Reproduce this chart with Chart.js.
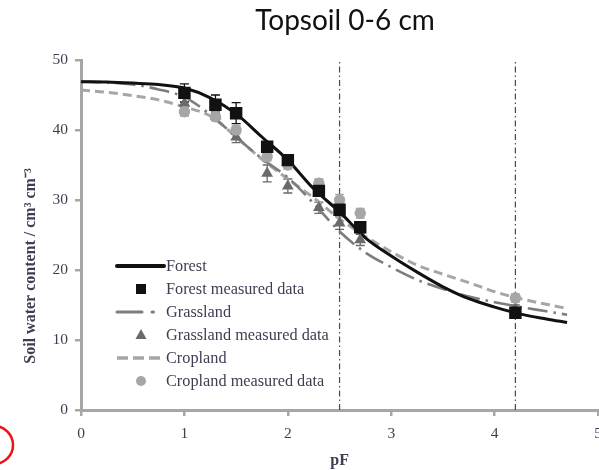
<!DOCTYPE html>
<html>
<head>
<meta charset="utf-8">
<script src="https://cdn.jsdelivr.net/npm/chart.js@4/dist/chart.umd.min.js"></script>
<style>
  html, body { margin: 0; padding: 0; background: #fff; overflow: hidden; }
  #wrap { position: relative; width: 599px; height: 470px; overflow: hidden; }
  #c { position: absolute; left: 0; top: 0; }
</style>
</head>
<body>
<div id="wrap"><canvas id="c" width="611" height="470"></canvas></div>
<script>
// ---- Data ----
const chartTitle = 'Topsoil 0-6 cm';
const xTitle = 'pF';
const yTitle = 'Soil water content / cm³ cm⁻³';

// fitted retention curves (sampled along pF)
const curvePF       = [0, 0.25, 0.5, 0.75, 1.0, 1.25, 1.5, 1.75, 2.0, 2.25, 2.5, 2.75, 3.0, 3.25, 3.5, 3.75, 4.0, 4.25, 4.5, 4.7];
const forestCurve   = [46.9, 46.85, 46.7, 46.5, 46.0, 44.6, 42.3, 39.0, 35.7, 31.6, 28.3, 24.6, 22.0, 19.7, 17.6, 15.9, 14.7, 13.7, 13.0, 12.5];
const grassCurve    = [46.9, 46.8, 46.5, 45.8, 44.7, 42.2, 39.0, 35.9, 33.2, 29.5, 25.5, 22.5, 20.4, 18.6, 17.3, 16.2, 15.4, 14.7, 14.1, 13.6];
const cropCurve     = [45.7, 45.4, 44.9, 44.3, 43.3, 42.0, 39.0, 35.8, 33.0, 30.3, 27.3, 24.8, 22.6, 20.7, 19.4, 18.2, 16.9, 15.9, 15.1, 14.5];

// measured data
const measPF        = [1.0, 1.3, 1.5, 1.8, 2.0, 2.3, 2.5, 2.7, 4.2];
const forestMeas    = [45.3, 43.6, 42.4, 37.6, 35.7, 31.3, 28.6, 26.1, 13.9];
const forestErr     = [1.3, 1.4, 1.5, 0.5, 0.4, 0.7, 0.8, 0.8, 0.6];
const grassMeas     = [43.8, 42.0, 39.0, 33.8, 32.0, 28.9, 26.7, 24.3, 14.5];
const grassErr      = [0.8, 0.6, 0.8, 1.2, 1.0, 0.8, 0.9, 0.8, 0.5];
const cropMeas      = [42.6, 41.9, 40.0, 36.2, 35.0, 32.4, 30.0, 28.1, 16.0];
const cropErr       = [0.6, 0.6, 0.6, 0.6, 0.6, 0.6, 0.8, 0.7, 0.6];

// reference pF lines (field capacity / wilting point)
const refLinesPF    = [2.5, 4.2];
const refLineRange  = [0, 50];

const legendLabels  = ['Forest', 'Forest measured data', 'Grassland', 'Grassland measured data', 'Cropland', 'Cropland measured data'];

const xTicks = { min: 0, max: 5, step: 1 };
const yTicks = { min: 0, max: 50, step: 10 };

// ---- Styles ----
const C_FOREST = '#111111';
const C_GRASS_LINE = '#7d7d7d';
const C_GRASS_PT = '#6a6a6a';
const C_CROP = '#a6a6a6';
const C_AXIS = '#a6a6a6';
const C_TEXT = '#3e3e52';
const SERIF = "'Liberation Serif', 'Times New Roman', serif";

const pts = (xs, ys) => xs.map((x, i) => ({ x: x, y: ys[i] }));

const datasets = [
  { label: legendLabels[1], data: pts(measPF, forestMeas), err: forestErr, errColor: C_FOREST,
    pointStyle: 'rect', pointRadius: 8.8, backgroundColor: C_FOREST, borderColor: C_FOREST, borderWidth: 0, showLine: false, order: 0 },
  { label: legendLabels[5], data: pts(measPF, cropMeas), err: cropErr, errColor: C_CROP,
    pointStyle: 'circle', pointRadius: 5.7, backgroundColor: C_CROP, borderColor: C_CROP, borderWidth: 0, showLine: false, order: 1 },
  { label: legendLabels[3], data: pts(measPF, grassMeas), err: grassErr, errColor: C_GRASS_PT,
    pointStyle: 'triangle', pointRadius: 6.8, backgroundColor: C_GRASS_PT, borderColor: C_GRASS_PT, borderWidth: 0, showLine: false, order: 2 },
  { label: legendLabels[0], data: pts(curvePF, forestCurve), showLine: true, borderColor: C_FOREST, borderWidth: 3,
    pointRadius: 0, cubicInterpolationMode: 'monotone', fill: false, order: 3 },
  { label: legendLabels[2], data: pts(curvePF, grassCurve), showLine: true, borderColor: C_GRASS_LINE, borderWidth: 2.6,
    borderDash: [20, 6, 2.5, 6], pointRadius: 0, cubicInterpolationMode: 'monotone', fill: false, order: 4 },
  { label: legendLabels[4], data: pts(curvePF, cropCurve), showLine: true, borderColor: C_CROP, borderWidth: 3,
    borderDash: [9, 5], pointRadius: 0, cubicInterpolationMode: 'monotone', fill: false, order: 5 },
];
refLinesPF.forEach(pf => {
  datasets.push({ label: 'ref', data: refLineRange.map(y => ({ x: pf, y: y })), showLine: true,
    borderColor: '#4a4a4a', borderWidth: 1.2, borderDash: [6, 3, 1.5, 3], pointRadius: 0, order: 6, isRef: true });
});

// ---- Plugins ----
const errorBars = {
  id: 'errorBars',
  beforeDatasetsDraw(chart) {
    const { ctx, scales: { x, y } } = chart;
    chart.data.datasets.forEach(ds => {
      if (!ds.err) return;
      ctx.save();
      ctx.strokeStyle = ds.errColor;
      ctx.lineWidth = 1.3;
      ds.data.forEach((p, i) => {
        const px = x.getPixelForValue(p.x);
        const yt = y.getPixelForValue(p.y + ds.err[i]);
        const yb = y.getPixelForValue(p.y - ds.err[i]);
        ctx.beginPath();
        ctx.moveTo(px, yt); ctx.lineTo(px, yb);
        ctx.moveTo(px - 4.5, yt); ctx.lineTo(px + 4.5, yt);
        ctx.moveTo(px - 4.5, yb); ctx.lineTo(px + 4.5, yb);
        ctx.stroke();
      });
      ctx.restore();
    });
  }
};

const decorations = {
  id: 'decorations',
  afterDraw(chart) {
    const ctx = chart.ctx;
    const area = chart.chartArea;
    ctx.save();
    // title
    ctx.fillStyle = '#111';
    ctx.font = "28px 'Lato', 'Open Sans', sans-serif";
    ctx.textAlign = 'center';
    ctx.textBaseline = 'middle';
    ctx.fillText(chartTitle, 345, 21);

    // axis titles
    ctx.fillStyle = C_TEXT;
    ctx.font = "bold 16px " + SERIF;
    ctx.fillText(xTitle, (area.left + area.right) / 2, 461);
    ctx.save();
    ctx.translate(31, 266);
    ctx.rotate(-Math.PI / 2);
    ctx.fillText(yTitle, 0, 0);
    ctx.restore();

    // legend
    const rowY = [266, 289, 312, 335, 358, 381];
    const lx0 = 117, lx1 = 164, mx = 141, tx = 166;
    ctx.font = "16.3px " + SERIF;
    ctx.textAlign = 'left';
    ctx.textBaseline = 'middle';
    legendLabels.forEach((lab, i) => {
      const yy = rowY[i];
      ctx.save();
      if (i === 0) {
        ctx.strokeStyle = C_FOREST; ctx.lineWidth = 4; ctx.lineCap = 'round';
        ctx.beginPath(); ctx.moveTo(lx0, yy); ctx.lineTo(lx1, yy); ctx.stroke();
      } else if (i === 2) {
        ctx.strokeStyle = C_GRASS_LINE; ctx.lineWidth = 3; ctx.lineCap = 'round';
        ctx.beginPath(); ctx.moveTo(lx0, yy); ctx.lineTo(lx0 + 25, yy); ctx.stroke();
        ctx.beginPath(); ctx.moveTo(lx0 + 35, yy); ctx.lineTo(lx0 + 36.5, yy); ctx.stroke();
      } else if (i === 4) {
        ctx.strokeStyle = C_CROP; ctx.lineWidth = 3.5;
        ctx.setLineDash([11, 5]);
        ctx.beginPath(); ctx.moveTo(lx0, yy); ctx.lineTo(lx1, yy); ctx.stroke();
      } else if (i === 1) {
        ctx.fillStyle = C_FOREST; ctx.fillRect(mx - 5, yy - 5, 10, 10);
      } else if (i === 3) {
        ctx.fillStyle = C_GRASS_PT;
        ctx.beginPath(); ctx.moveTo(mx, yy - 6); ctx.lineTo(mx + 5.5, yy + 4); ctx.lineTo(mx - 5.5, yy + 4); ctx.closePath(); ctx.fill();
      } else if (i === 5) {
        ctx.fillStyle = C_CROP;
        ctx.beginPath(); ctx.arc(mx, yy, 5, 0, Math.PI * 2); ctx.fill();
      }
      ctx.restore();
      ctx.fillStyle = C_TEXT;
      ctx.fillText(lab, tx, yy + 1);
    });

    // red annotation mark at bottom-left
    ctx.strokeStyle = '#ee1111';
    ctx.lineWidth = 2.5;
    ctx.beginPath();
    ctx.arc(-6, 445, 19, -Math.PI / 2, Math.PI / 2);
    ctx.stroke();
    ctx.restore();
  }
};

// ---- Chart ----
new Chart(document.getElementById('c'), {
  type: 'scatter',
  data: { datasets: datasets },
  options: {
    responsive: false,
    animation: false,
    devicePixelRatio: 1,
    layout: { autoPadding: false, padding: { top: 60, right: 0, left: 0, bottom: 0 } },
    plugins: { legend: { display: false }, title: { display: false }, tooltip: { enabled: false } },
    scales: {
      x: {
        type: 'linear', min: xTicks.min, max: xTicks.max,
        ticks: { stepSize: xTicks.step, color: C_TEXT, padding: 9, font: { family: SERIF, size: 15.5 } },
        grid: { drawOnChartArea: false, drawTicks: true, tickLength: 6, color: C_AXIS, lineWidth: 2.5 },
        border: { display: true, color: C_AXIS, width: 3 },
        afterFit(s) { s.height = 60; }
      },
      y: {
        type: 'linear', min: yTicks.min, max: yTicks.max,
        ticks: { stepSize: yTicks.step, color: C_TEXT, padding: 7, font: { family: SERIF, size: 15.5 } },
        grid: { drawOnChartArea: false, drawTicks: true, tickLength: 6, color: C_AXIS, lineWidth: 2.5 },
        border: { display: true, color: C_AXIS, width: 3 },
        afterFit(s) { s.width = 81; }
      }
    }
  },
  plugins: [errorBars, decorations]
});
</script>
</body>
</html>
